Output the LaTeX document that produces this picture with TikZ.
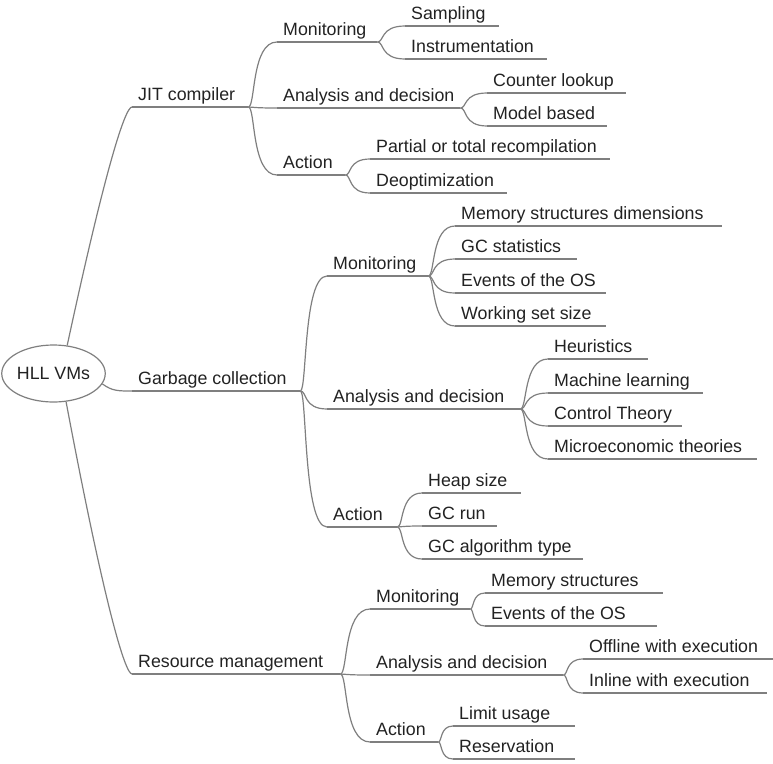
\documentclass[tikz,border=0pt]{standalone}
\usepackage{fontspec}
\setmainfont{Liberation Sans}
\usetikzlibrary{shapes.geometric,calc}

\definecolor{branch}{HTML}{7F7F7F}
\definecolor{ink}{HTML}{222222}

\tikzset{
  conn/.style={draw=branch, line width=1.2pt},
  topic/.style={anchor=south west, inner xsep=6pt, inner ysep=6pt,
    text depth=0pt, text=ink, font=\fontsize{17.8}{20}\selectfont},
  rootbox/.style={draw=branch, line width=1.2pt, ellipse, inner sep=0pt,
    minimum width=95pt, minimum height=57pt, text=ink,
    font=\fontsize{17.8}{20}\selectfont},
}

% a topic: label sitting on an underline of the given length
\newcommand\topic[5]{%
  \node[topic] (#1) at (#2,#3) {\hbox to \dimexpr#4pt-12pt\relax{#5\hss}};
  \draw[conn] (#1.south west) -- (#1.south east);}

% curved branch from the end of a parent's underline to the start of a child's
\newcommand\link[2]{%
  \draw[conn] let \p1=(#1.south east), \p2=(#2.south west) in
    (\p1) .. controls ({\x1+0.25*(\x2-\x1)},\y1) and ({\x1+0.1*(\x2-\x1)},\y2) .. (\p2);}

\begin{document}
\begin{tikzpicture}[x=1pt, y=-1pt]
\useasboundingbox (0,0) rectangle (773,763);

\node[rootbox] (root) at (53.5,373.5) {HLL VMs};

% first level
\topic{jit}{132}{107}{116}{JIT compiler}
\topic{gc}{132}{391}{168}{Garbage collection}
\topic{rm}{132}{674}{208}{Resource management}

\draw[conn] (root.64) .. controls (105,170) and (125,107) .. (jit.south west);
\draw[conn] (root.-12) .. controls (112,391) and (118,391) .. (gc.south west);
\draw[conn] (root.-66) .. controls (104,603) and (125,674) .. (rm.south west);

% JIT compiler
\topic{jm}{277}{42}{100}{Monitoring}
\topic{ja}{277}{108}{183}{Analysis and decision}
\topic{jc}{277}{175}{68}{Action}
\link{jit}{jm}\link{jit}{ja}\link{jit}{jc}

\topic{jm1}{405}{26}{94}{Sampling}
\topic{jm2}{405}{59}{142}{Instrumentation}
\link{jm}{jm1}\link{jm}{jm2}

\topic{ja1}{487}{93}{139}{Counter lookup}
\topic{ja2}{487}{126}{120}{Model based}
\link{ja}{ja1}\link{ja}{ja2}

\topic{jc1}{370}{159}{240}{Partial or total recompilation}
\topic{jc2}{370}{193}{137}{Deoptimization}
\link{jc}{jc1}\link{jc}{jc2}

% Garbage collection
\topic{gm}{327}{276}{101}{Monitoring}
\topic{ga}{327}{409}{193}{Analysis and decision}
\topic{gc3}{327}{527}{70}{Action}
\link{gc}{gm}\link{gc}{ga}\link{gc}{gc3}

\topic{gm1}{455}{226}{267}{Memory structures dimensions}
\topic{gm2}{455}{259}{122}{GC statistics}
\topic{gm3}{455}{293}{151}{Events of the OS}
\topic{gm4}{455}{326}{151}{Working set size}
\link{gm}{gm1}\link{gm}{gm2}\link{gm}{gm3}\link{gm}{gm4}

\topic{ga1}{548}{359}{100}{Heuristics}
\topic{ga2}{548}{393}{155}{Machine learning}
\topic{ga3}{548}{426}{134}{Control Theory}
\topic{ga4}{548}{459}{209}{Microeconomic theories}
\link{ga}{ga1}\link{ga}{ga2}\link{ga}{ga3}\link{ga}{ga4}

\topic{gc1}{422}{493}{99}{Heap size}
\topic{gc2}{422}{526}{75}{GC run}
\topic{gc4}{422}{559}{161}{GC algorithm type}
\link{gc3}{gc1}\link{gc3}{gc2}\link{gc3}{gc4}

% Resource management
\topic{rmm}{370}{609}{100}{Monitoring}
\topic{rma}{370}{675}{193}{Analysis and decision}
\topic{rmc}{370}{742}{68}{Action}
\link{rm}{rmm}\link{rm}{rma}\link{rm}{rmc}

\topic{rmm1}{485}{593}{178}{Memory structures}
\topic{rmm2}{485}{626}{172}{Events of the OS}
\link{rmm}{rmm1}\link{rmm}{rmm2}

\topic{rma1}{583}{659}{190}{Offline with execution}
\topic{rma2}{583}{693}{184}{Inline with execution}
\link{rma}{rma1}\link{rma}{rma2}

\topic{rmc1}{453}{726}{122}{Limit usage}
\topic{rmc2}{453}{759}{122}{Reservation}
\link{rmc}{rmc1}\link{rmc}{rmc2}
\end{tikzpicture}
\end{document}
